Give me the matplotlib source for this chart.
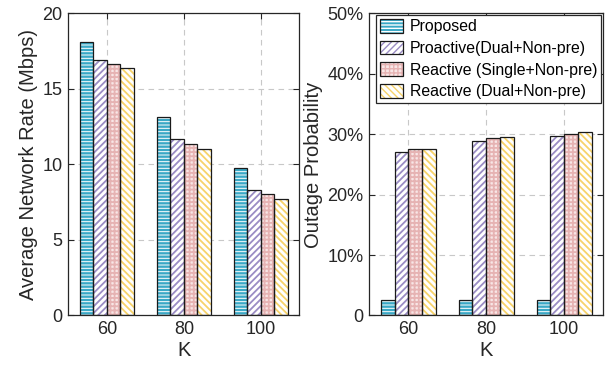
import numpy as np
import matplotlib
matplotlib.use("Agg")
import matplotlib.pyplot as plt
from matplotlib.ticker import FuncFormatter

plt.rcParams['font.family'] = ['Liberation Sans', 'DejaVu Sans']

# data
k_values = ['60', '80', '100']
schemes = ['Proposed', 'Proactive(Dual+Non-pre)',
           'Reactive (Single+Non-pre)', 'Reactive (Dual+Non-pre)']
rate = [
    [18.12, 13.15, 9.74],
    [16.89, 11.66, 8.32],
    [16.64, 11.35, 8.03],
    [16.36, 11.00, 7.72],
]
outage = [
    [2.5, 2.5, 2.6],
    [27.0, 28.9, 29.7],
    [27.5, 29.3, 30.1],
    [27.6, 29.5, 30.3],
]

# (face, hatch colour, hatch pattern, hatch width) per scheme
styles = [
    ('#3aa8c6', 'white', '-----', 0.7),
    ('white', '#9a8cc4', '/////', 1.3),
    ('#f8e6e6', '#e6b3b3', '++++', 1.3),
    ('white', '#f7d36a', '\\\\\\\\\\', 1.3),
]

fig = plt.figure(figsize=(6.12, 3.75), dpi=100)
ax1 = fig.add_axes([0.1116, 0.159, 0.3775, 0.805])
ax2 = fig.add_axes([0.6034, 0.159, 0.382, 0.805])

x = np.arange(1, len(k_values) + 1)
w = 0.176


def hatched(fc, hc, hatch, hw):
    with plt.rc_context({'hatch.linewidth': hw}):
        return plt.Rectangle((0, 0), 1, 1, facecolor=fc, edgecolor=hc,
                             hatch=hatch, linewidth=0)


def draw(ax, values):
    handles = []
    for i, (vals, (fc, hc, hatch, hw)) in enumerate(zip(values, styles)):
        pos = x + (i - 1.5) * w
        with plt.rc_context({'hatch.linewidth': hw}):
            ax.bar(pos, vals, w, color=fc, edgecolor=hc, hatch=hatch,
                   linewidth=0, zorder=2)
        ax.bar(pos, vals, w, fill=False, edgecolor='#1a1a1a',
               linewidth=0.9, zorder=3)
        # legend proxy
        h2 = plt.Rectangle((0, 0), 1, 1, fill=False, edgecolor='#1a1a1a',
                           linewidth=0.9)
        handles.append((hatched(fc, hc, hatch, hw), h2))
    ax.set_xlim(0.5, 3.5)
    ax.set_xticks(x)
    ax.set_xticklabels(k_values)
    ax.grid(True, linestyle=(0, (5, 4)), color='#c8c8c8', linewidth=0.8,
            zorder=0)
    ax.set_axisbelow(True)
    ax.tick_params(direction='in', length=4, labelsize=13, color='#262626',
                   labelcolor='#262626', top=True, right=True, pad=4)
    for s in ax.spines.values():
        s.set_color('#262626')
        s.set_linewidth(0.9)
    ax.set_xlabel('K', fontsize=14.5, color='#262626', labelpad=2)
    return handles


draw(ax1, rate)
ax1.set_ylim(0, 20)
ax1.set_yticks([0, 5, 10, 15, 20])
ax1.set_ylabel('Average Network Rate (Mbps)', fontsize=14.5, color='#262626',
               labelpad=3)

handles = draw(ax2, outage)
ax2.set_ylim(0, 50)
ax2.set_yticks([0, 10, 20, 30, 40, 50])
ax2.yaxis.set_major_formatter(FuncFormatter(
    lambda v, p: '0' if v == 0 else f'{v:.0f}%'))
ax2.set_ylabel('Outage Probability', fontsize=14.5, color='#262626',
               labelpad=3)

leg = ax2.legend(handles, schemes, loc='upper right', fontsize=11.4,
                 frameon=True, fancybox=False, edgecolor='#262626',
                 framealpha=1, borderpad=0.25, labelspacing=0.4,
                 handlelength=1.45, handleheight=0.95, handletextpad=0.45,
                 borderaxespad=0.1)
leg.get_frame().set_linewidth(0.9)

fig.savefig('out.png', dpi=100)
